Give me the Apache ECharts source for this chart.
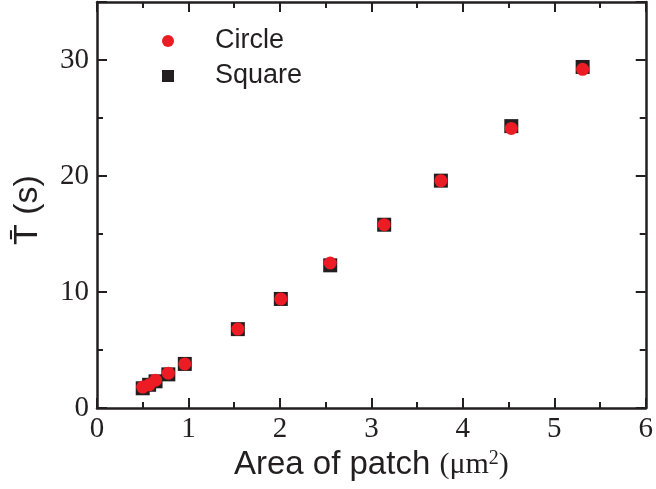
<!DOCTYPE html>
<html>
<head>
<meta charset="utf-8">
<script src="https://cdn.jsdelivr.net/npm/echarts@6/dist/echarts.min.js"></script>
<style>
  html, body { margin: 0; padding: 0; background: #fff; }
  #chart { width: 656px; height: 489px; }
</style>
</head>
<body>
<div id="chart"></div>
<script>
  // patch area (um^2) and mean time (s)
  var areaCircle = [0.50, 0.57, 0.64, 0.78, 0.96, 1.54, 2.01, 2.55, 3.14, 3.76, 4.53, 5.31];
  var timeCircle = [1.8, 2.0, 2.4, 3.0, 3.8, 6.8, 9.4, 12.5, 15.8, 19.6, 24.1, 29.2];
  var areaSquare = [0.50, 0.57, 0.64, 0.78, 0.96, 1.54, 2.01, 2.55, 3.14, 3.76, 4.53, 5.31];
  var timeSquare = [1.7, 2.0, 2.3, 2.9, 3.8, 6.8, 9.4, 12.3, 15.8, 19.6, 24.3, 29.4];
  var xTicks = [0, 1, 2, 3, 4, 5, 6];
  var yTicks = [0, 10, 20, 30];

  function pairs(xs, ys) {
    return xs.map(function (x, i) { return [x, ys[i]]; });
  }

  var chart = echarts.init(document.getElementById('chart'));

  var ink = '#231f20';
  var axisLine = { show: true, onZero: false, lineStyle: { color: ink, width: 2.5 } };
  var tick = { show: true, inside: true, length: 10, lineStyle: { color: ink, width: 2 } };
  var minor = { show: true, splitNumber: 2, length: 6, lineStyle: { color: ink, width: 2 } };
  var serif = 'Liberation Serif, Times New Roman, serif';
  var sans = 'Liberation Sans, Arial, sans-serif';

  var option = {
    animation: false,
    backgroundColor: '#fff',
    grid: { left: 97, right: 6, top: 2, bottom: 81 },
    legend: {
      left: 157, top: 22, orient: 'vertical', itemGap: 7,
      itemWidth: 12, itemHeight: 12,
      textStyle: { fontFamily: sans, fontSize: 27, lineHeight: 28, color: ink, padding: [0, 0, 0, 36] },
      data: [
        { name: 'Circle', icon: 'circle', itemStyle: { color: '#ed1c24' } },
        { name: 'Square', icon: 'rect', itemStyle: { color: ink } }
      ]
    },
    xAxis: [{
      type: 'value', min: xTicks[0], max: xTicks[xTicks.length - 1], interval: 1,
      axisLine: axisLine, axisTick: tick, minorTick: minor, splitLine: { show: false },
      axisLabel: { fontFamily: serif, fontSize: 29, color: ink, margin: 7 },
      name: '{a|Area of patch }{b|(μm}{c|2}{b|)}', nameLocation: 'middle', nameGap: 38,
      nameTextStyle: {
        rich: {
          a: { fontFamily: sans, fontSize: 33, color: ink },
          b: { fontFamily: serif, fontSize: 30, color: ink },
          c: { fontFamily: serif, fontSize: 20, color: ink, verticalAlign: 'top' }
        }
      }
    }, {
      type: 'value', position: 'top', min: 0, max: 6, interval: 1,
      axisLine: axisLine, axisTick: tick, minorTick: minor, splitLine: { show: false },
      axisLabel: { show: false }
    }],
    yAxis: [{
      type: 'value', min: 0, max: 35, interval: 10,
      axisLine: axisLine, axisTick: tick, minorTick: minor, splitLine: { show: false },
      axisLabel: {
        fontFamily: serif, fontSize: 29, color: ink, margin: 8,
        formatter: function (v) { return yTicks.indexOf(v) >= 0 ? String(v) : ''; }
      },
      name: 'T\u0304 (s)', nameLocation: 'middle', nameGap: 52, nameRotate: 90,
      nameTextStyle: { fontFamily: sans, fontSize: 34, color: ink, padding: [0, 10, 0, 0] }
    }, {
      type: 'value', position: 'right', min: 0, max: 35, interval: 10,
      axisLine: axisLine, axisTick: tick, minorTick: minor, splitLine: { show: false },
      axisLabel: { show: false }
    }],
    series: [{
      name: 'Square', type: 'scatter', symbol: 'rect', symbolSize: 14,
      itemStyle: { color: ink, opacity: 1 },
      data: pairs(areaSquare, timeSquare)
    }, {
      name: 'Circle', type: 'scatter', symbol: 'circle', symbolSize: 13,
      itemStyle: { color: '#ed1c24', opacity: 1 },
      data: pairs(areaCircle, timeCircle)
    }]
  };
  chart.setOption(option);
</script>
</body>
</html>
